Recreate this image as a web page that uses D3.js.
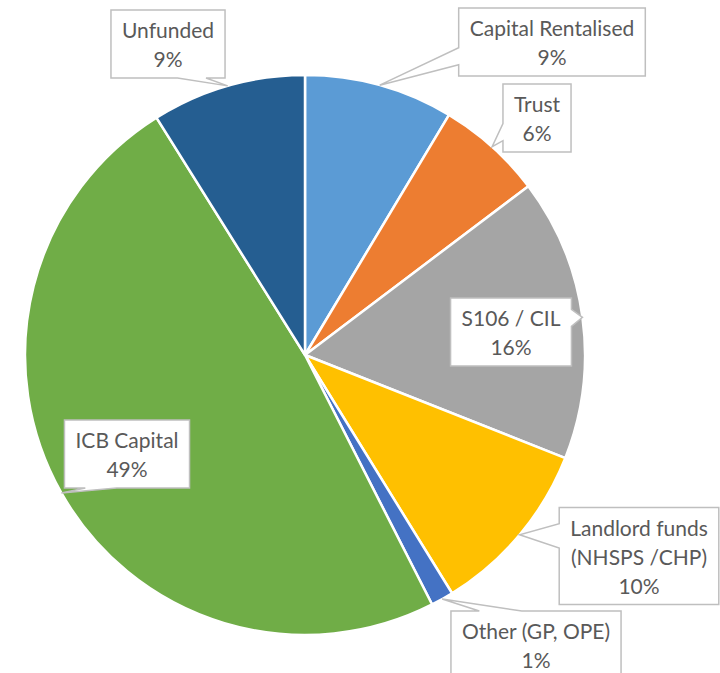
<!DOCTYPE html>
<html>
<head>
<meta charset="utf-8">
<script src="https://cdn.jsdelivr.net/npm/d3@7"></script>
<style>
  body { margin: 0; background: #fff; }
  svg { display: block; }
</style>
</head>
<body>
<div id="chart"></div>
<script>
// Data
var categories = ["Capital Rentalised", "Trust", "S106 / CIL", "Landlord funds (NHSPS /CHP)", "Other (GP, OPE)", "ICB Capital", "Unfunded"];
var values = [8.6, 6.1, 16.3, 10.2, 1.3, 48.6, 8.9];
var labelLines = [["Capital Rentalised"], ["Trust"], ["S106 / CIL"], ["Landlord funds", "(NHSPS /CHP)"], ["Other (GP, OPE)"], ["ICB Capital"], ["Unfunded"]];
var colors = ["#5B9BD5", "#ED7D31", "#A5A5A5", "#FFC000", "#4472C4", "#70AD47", "#255E91"];

// Callout box centres (layout only)
var boxCentres = [[552, 42], [537, 118], [511, 332], [639, 556], [536, 645], [127, 454], [168, 44]];

var svgWidth = 720;
var svgHeight = 673;
var cx = 305, cy = 355, radius = 280;
var lineH = 29;

var svg = d3.select("#chart").append("svg")
    .attr("width", svgWidth)
    .attr("height", svgHeight);

var total = d3.sum(values);
var data = categories.map(function(c, i) {
  return { name: c, value: values[i], lines: labelLines[i], color: colors[i], box: boxCentres[i] };
});

var pie = d3.pie().sort(null).value(d => d.value);
var arc = d3.arc().innerRadius(0).outerRadius(radius);

var pieGroup = svg.append("g")
  .attr("transform", `translate(${cx}, ${cy})`);

var arcs = pie(data);

pieGroup.selectAll("path")
  .data(arcs)
  .enter()
  .append("path")
  .attr("d", arc)
  .attr("fill", d => d.data.color)
  .attr("stroke", "#fff")
  .attr("stroke-width", 2.5)
  .attr("stroke-linejoin", "round");

// Callouts
var labelGroup = svg.append("g");

arcs.forEach(function(a) {
  var d = a.data;
  var pct = Math.round(d.value / total * 100) + "%";
  var lines = d.lines.concat([pct]);
  var g = labelGroup.append("g");

  var texts = [];
  lines.forEach(function(t, i) {
    texts.push(g.append("text")
      .attr("x", d.box[0])
      .attr("text-anchor", "middle")
      .attr("font-family", "Lato, 'Open Sans', sans-serif")
      .attr("font-size", "21px")
      .attr("fill", "#595959")
      .text(t));
  });
  var maxW = d3.max(texts, t => t.node().getComputedTextLength());
  var w = maxW + 22;
  var h = lines.length * lineH + 10;
  var x0 = d.box[0] - w / 2, y0 = d.box[1] - h / 2;
  var x1 = x0 + w, y1 = y0 + h;
  texts.forEach(function(t, i) {
    t.attr("y", y0 + 28 + i * lineH);
  });

  // tip at the middle angle on the rim
  var mid = (a.startAngle + a.endAngle) / 2;
  var tx = cx + radius * Math.sin(mid);
  var ty = cy - radius * Math.cos(mid);

  // wedge callout outline
  var pts;
  var inX = tx >= x0 && tx <= x1, inY = ty >= y0 && ty <= y1;
  var dxs = tx < x0 ? x0 - tx : (tx > x1 ? tx - x1 : 0);
  var dys = ty < y0 ? y0 - ty : (ty > y1 ? ty - y1 : 0);
  var side;
  if (dys / h >= dxs / w) side = ty > y1 ? "bottom" : "top";
  else side = tx < x0 ? "left" : "right";

  if (side === "bottom" || side === "top") {
    var f = tx > d.box[0] ? [7 / 12, 10 / 12] : [2 / 12, 5 / 12];
    var b1 = x0 + f[0] * w, b2 = x0 + f[1] * w;
    if (side === "bottom")
      pts = [[x0, y0], [x1, y0], [x1, y1], [b2, y1], [tx, ty], [b1, y1], [x0, y1]];
    else
      pts = [[x0, y0], [b1, y0], [tx, ty], [b2, y0], [x1, y0], [x1, y1], [x0, y1]];
  } else {
    var f2 = ty > d.box[1] ? [7 / 12, 10 / 12] : [2 / 12, 5 / 12];
    var c1 = y0 + f2[0] * h, c2 = y0 + f2[1] * h;
    if (side === "left")
      pts = [[x0, y0], [x1, y0], [x1, y1], [x0, y1], [x0, c2], [tx, ty], [x0, c1]];
    else
      pts = [[x0, y0], [x1, y0], [x1, c1], [tx, ty], [x1, c2], [x1, y1], [x0, y1]];
  }

  g.insert("path", "text")
    .attr("d", d3.line()(pts) + "Z")
    .attr("fill", "#fff")
    .attr("stroke", "#BFBFBF")
    .attr("stroke-width", 1.5);
});
</script>
</body>
</html>
